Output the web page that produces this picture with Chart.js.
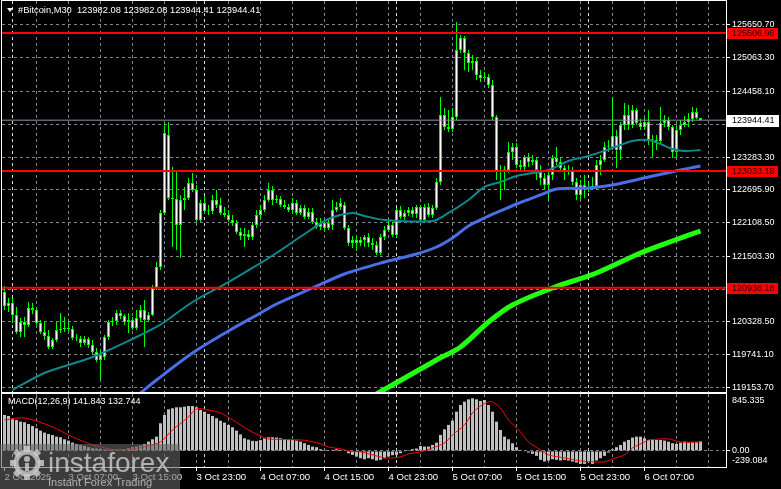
<!DOCTYPE html>
<html>
<head>
<meta charset="utf-8">
<script src="https://cdn.jsdelivr.net/npm/chart.js@4.4.0/dist/chart.umd.min.js"></script>
<style>
  body { margin: 0; background: #000; }
  #wrap { position: relative; width: 781px; height: 489px; overflow: hidden; background: #000; }
  #main { position: absolute; left: 0; top: 0; }
  #macd { position: absolute; left: 0; top: 392px; }
</style>
</head>
<body>
<div id="wrap">
  <canvas id="main" width="781" height="393"></canvas>
  <canvas id="macd" width="781" height="97"></canvas>
</div>
<script>
// свечи M30, бар 0 = 2 Oct 23:00
const opens = [
  120863,120612,120666,120451,120146,120325,120272,120576,120541,120307,
  120146,120074,119877,120003,120182,120200,120218,120200,120038,120030,
  119949,120021,119913,119787,119644,119698,120056,120325,120343,120487,
  120433,120325,120361,120218,120397,120541,120361,120451,120935,121312,
  122280,123678,122549,122531,122065,122513,122549,122818,122692,122154,
  122459,122316,122310,122513,122423,122280,122244,122154,122101,121939,
  121868,121903,121850,122065,122244,122334,122513,122692,122513,122531,
  122423,122388,122334,122459,122280,122370,122208,122298,122119,122029,
  122101,122011,122065,122334,122388,122423,122011,121742,121796,121742,
  121796,121850,121742,121706,121563,121850,121975,122065,121886,122334,
  122208,122280,122334,122262,122388,122154,122388,122244,122370,122836,
  124037,123822,123786,124001,125202,125418,125149,124969,125005,124754,
  124700,124718,124575,124001,123015,123051,123045,123374,123463,123140,
  123105,123284,123194,123230,123051,122907,122782,122961,123266,123194,
  123087,123015,123051,122836,122603,122782,122728,122746,122764,123140,
  123230,123463,123457,123660,123410,123857,124037,123857,124127,123893,
  123822,123911,123589,123583,123571,123893,123947,123822,123374,123768,
  123857,123911,123965,124091,123982.08
];
const highs = [
  120971,120755,120755,120594,120397,120415,120684,120666,120594,120361,
  120325,120182,120038,120325,120487,120415,120325,120254,120110,120074,
  120074,120056,120003,119859,119823,120092,120361,120415,120541,120541,
  120469,120487,120415,120541,120630,120720,120505,120989,121401,122334,
  123893,123911,123105,123015,122603,122746,122907,122997,122782,122513,
  122585,122423,122603,122692,122549,122388,122334,122244,122154,122011,
  122011,121975,122119,122334,122423,122603,122818,122764,122603,122585,
  122513,122441,122549,122513,122423,122423,122370,122370,122190,122190,
  122154,122154,122513,122477,122549,122477,122065,121868,121868,121850,
  121886,121921,121832,121778,121903,122047,122154,122119,122370,122405,
  122334,122388,122388,122423,122423,122441,122459,122423,122907,124360,
  124163,124127,124163,125704,125472,125454,125202,125113,125059,124844,
  124808,124772,124665,124037,123140,123122,123553,123535,123535,123230,
  123320,123356,123320,123266,123140,122997,123051,123320,123463,123266,
  123140,123140,123105,122907,122872,122961,122836,122925,123230,123320,
  123553,123589,124360,123768,123911,124252,124216,124216,124163,123965,
  123983,124127,123678,123678,124180,124037,124001,123857,123857,123947,
  124019,124073,124180,124163,123982.08
];
const lows = [
  120541,120505,120307,120110,120056,120056,120236,120469,120272,120110,
  120003,119841,119841,119967,120128,120146,120164,120003,119985,119877,
  119913,119859,119751,119608,119285,119644,120003,120254,120272,120379,
  120272,120128,120182,120182,120325,119877,120325,120433,120899,121258,
  122244,122513,121670,121616,121473,122334,122513,122656,122119,122119,
  122262,122244,122262,122370,122244,122208,122119,122047,121903,121796,
  121670,121796,121796,122011,122190,122298,122477,122423,122459,122388,
  122352,122298,122262,122244,122244,122172,122172,122083,121993,121975,
  121957,121975,121975,122298,122334,121975,121688,121652,121598,121688,
  121670,121670,121616,121527,121527,121796,121939,121850,121850,122172,
  122154,122226,122208,122190,122119,122119,122208,122190,122334,122782,
  123768,123732,123732,123947,125149,124844,124808,124844,124665,124629,
  124665,124521,123947,122872,122513,122692,122997,123230,123087,123015,
  123051,123105,123140,122872,122782,122692,122513,122872,123140,123015,
  122872,122961,122782,122513,122513,122549,122656,122692,122692,122961,
  123194,123374,123410,123087,123230,123768,123768,123804,123857,123768,
  123768,123499,123284,123410,123499,123822,123768,123266,123284,123678,
  123822,123822,123911,123965,123944.41
];
const closes = [
  120612,120666,120451,120146,120325,120272,120576,120541,120307,120146,
  120074,119877,120003,120182,120200,120218,120200,120038,120030,119949,
  120021,119913,119787,119644,119733,120056,120325,120343,120487,120433,
  120325,120361,120218,120397,120541,120361,120451,120935,121312,122280,
  123714,122549,122531,122065,122513,122549,122818,122692,122154,122459,
  122316,122310,122513,122423,122280,122244,122154,122101,121939,121868,
  121903,121850,122065,122244,122334,122513,122692,122513,122531,122423,
  122388,122334,122459,122280,122370,122208,122298,122119,122029,122101,
  122011,122101,122334,122388,122459,122011,121742,121796,121742,121796,
  121850,121742,121706,121563,121850,121975,122065,121886,122334,122208,
  122280,122334,122262,122388,122154,122388,122244,122370,122836,124037,
  123822,123786,124001,125202,125418,125149,124969,125005,124754,124700,
  124718,124575,124001,123015,123051,123045,123374,123463,123140,123105,
  123284,123194,123230,123051,122907,122782,122961,123266,123194,123087,
  123015,123051,122836,122603,122782,122728,122746,122764,123140,123230,
  123463,123457,123660,123410,123857,124037,123857,124127,123893,123822,
  123911,123589,123583,123571,123893,123947,123822,123374,123768,123857,
  123911,123965,124091,123983,123944.41
];

// скользящие средние (номер бара, значение)
const maTealIdx = [2,10,22,33,38,40,47,56,62,68,75,81,87,90,95,107,111,116,120,124,128,136,141,146,152,157,161,164,167,170,174];
const maTealVal = [119106,119411,119698,120056,120236,120325,120684,121042,121294,121563,121903,122172,122280,122226,122154,122137,122280,122513,122746,122836,122943,123051,123212,123302,123445,123571,123589,123517,123427,123392,123410];
const maBlueIdx = [34,38,47,56,64,68,77,85,95,103,108,112,116,120,124,128,134,138,146,152,161,169,174];
const maBlueVal = [119052,119285,119769,120164,120486,120648,120935,121186,121401,121545,121670,121832,122047,122190,122316,122441,122603,122710,122728,122782,122925,123051,123122];
const maGreenIdx = [93,108,114,121,127,137,148,159,167,174];
const maGreenVal = [119034,119644,119877,120325,120630,120935,121204,121563,121778,121957];

// уровни и текущая цена
const levels = [125506.96, 123033.18, 120938.18];
const lastPrice = 123944.41;
const priceTicks = [125650.70,125063.30,124458.10,123870.70,123283.30,122695.90,122108.50,121503.30,120915.90,120328.50,119741.10,119153.70];

// MACD(12,26,9)
const macdHist = [
  534,519,470,460,435,425,400,371,337,301,
  272,252,237,212,203,173,153,123,104,89,
  74,55,40,35,25,20,20,22,22,24,
  25,40,55,64,79,104,138,173,212,410,
  534,618,633,648,648,657,667,667,648,608,
  583,549,519,485,449,420,386,351,301,245,
  188,168,150,146,160,185,203,203,198,188,
  178,173,163,153,138,114,89,64,55,25,
  15,5,15,25,15,0,-35,-59,-84,-109,
  -124,-109,-124,-143,-133,-109,-84,-64,-59,-35,
  -10,15,25,35,74,64,64,89,123,237,
  321,386,450,583,682,732,766,781,766,741,
  756,682,583,435,311,212,173,114,55,15,
  -10,-25,-44,-74,-133,-158,-143,-124,-133,-143,
  -133,-143,-158,-173,-193,-193,-158,-193,-143,-109,
  -74,-25,25,55,89,138,163,198,212,212,
  188,163,163,163,163,153,138,114,104,123,
  138,123,129,129,141.843
];
const signalIdx = [0,5,12,16,20,24,28,32,36,39,42,46,48,51,54,57,59,61,64,66,74,76,79,81,84,86,89,92,95,97,99,101,104,107,110,112,115,117,119,121,122,124,126,129,131,134,136,140,144,147,150,152,155,157,160,161,166,169,174];
const signalVal = [460,489,356,237,133,59,15,30,74,133,311,504,623,608,564,460,386,311,222,178,163,148,104,59,30,0,-15,-59,-104,-104,-89,-44,-15,44,119,237,386,564,667,727,727,638,460,282,133,15,-59,-104,-148,-163,-163,-119,-59,44,133,163,178,133,132.744];
const macdMax = 845.335;
const macdMin = -239.084;

// ось времени
const gridIdx = [8,16,24,32,40,48,56,64,72,80,88,96,104,112,120,128,136,144,152,160,168,176];
const dayIdx = [2,50,98,146];
const dateIdx = [0,16,32,48,64,80,96,112,128,144,160];
const dateText = ['2 Oct 2025','3 Oct 07:00','3 Oct 15:00','3 Oct 23:00','4 Oct 07:00','4 Oct 15:00','4 Oct 23:00','5 Oct 07:00','5 Oct 15:00','5 Oct 23:00','6 Oct 07:00'];

const X_MIN = -0.625, X_MAX = 180.375;
const FONT = '"Liberation Sans", Arial, sans-serif';
const GRID = '#7d8590';

Chart.defaults.font.family = FONT;
Chart.defaults.font.size = 9;
Chart.defaults.color = '#ffffff';

function gridColor(ctx) {
  const v = ctx.tick ? ctx.tick.value : null;
  if (dayIdx.includes(v)) return '#d8d8d8';
  if (gridIdx.includes(v)) return GRID;
  return 'rgba(0,0,0,0)';
}

function pts(idx, vals) {
  return idx.map((x, k) => ({ x: x, y: vals[k] }));
}

// без лишних отступов под подписи
function noPad(s) {
  s.paddingTop = 0; s.paddingBottom = 0; s.paddingLeft = 0; s.paddingRight = 0;
}

// рамка панели
const framePlugin = {
  id: 'frame',
  afterDraw(chart) {
    const { ctx, chartArea: a } = chart;
    ctx.save();
    ctx.strokeStyle = '#ffffff';
    ctx.lineWidth = 1;
    ctx.strokeRect(a.left - 0.5, a.top - 0.5, a.right - a.left + 1, a.bottom - a.top + 1);
    ctx.restore();
  }
};

// заголовок и метки уровней на шкале
const mainOverlay = {
  id: 'mainOverlay',
  afterDraw(chart) {
    const { ctx } = chart;
    const y = chart.scales.y;
    ctx.save();
    ctx.fillStyle = '#ffffff';
    ctx.beginPath();
    ctx.moveTo(7, 8); ctx.lineTo(13, 8); ctx.lineTo(10, 12); ctx.closePath();
    ctx.fill();
    ctx.font = '9.3px ' + FONT;
    ctx.textBaseline = 'middle';
    ctx.textAlign = 'left';
    ctx.fillText('#Bitcoin,M30  123982.08 123982.08 123944.41 123944.41', 18, 10);

    ctx.font = '9px ' + FONT;
    levels.forEach(v => {
      const py = Math.round(y.getPixelForValue(v));
      ctx.fillStyle = '#ff0000';
      ctx.fillRect(727, py - 5, 51, 11);
      ctx.fillStyle = '#220000';
      ctx.fillText(v.toFixed(2), 732, py + 0.5);
    });
    const pp = Math.round(y.getPixelForValue(lastPrice));
    ctx.fillStyle = '#ffffff';
    ctx.fillRect(727, pp - 5, 52, 12);
    ctx.fillStyle = '#000000';
    ctx.fillText(lastPrice.toFixed(2), 732, pp + 1);
    ctx.restore();
  }
};

const mainChart = new Chart(document.getElementById('main'), {
  type: 'bar',
  data: {
    datasets: [
      ...levels.map(v => ({
        type: 'line', order: 0, data: [{ x: X_MIN, y: v }, { x: X_MAX, y: v }],
        borderColor: '#ff0000', borderWidth: 2, pointRadius: 0
      })),
      {
        type: 'line', order: 1, data: [{ x: X_MIN, y: lastPrice }, { x: X_MAX, y: lastPrice }],
        borderColor: '#8c96a0', borderWidth: 1, pointRadius: 0
      },
      { type: 'line', order: 2, data: pts(maTealIdx, maTealVal), borderColor: '#0e8a8a', borderWidth: 2, pointRadius: 0, tension: 0.3 },
      { type: 'line', order: 2, data: pts(maBlueIdx, maBlueVal), borderColor: '#4a6ee6', borderWidth: 3, pointRadius: 0, tension: 0.3 },
      { type: 'line', order: 2, data: pts(maGreenIdx, maGreenVal), borderColor: '#22ff11', borderWidth: 5, pointRadius: 0, tension: 0.3 },
      {
        order: 3, grouped: false,
        data: opens.map((o, i) => ({ x: i, y: [o, closes[i]] })),
        backgroundColor: '#ffffff',
        borderColor: '#00ff00', borderWidth: 1, borderSkipped: false,
        barThickness: 3, minBarLength: 1, inflateAmount: 0
      },
      {
        order: 4, grouped: false,
        data: lows.map((l, i) => ({ x: i, y: [l, highs[i]] })),
        backgroundColor: '#00ff00', borderWidth: 0,
        barThickness: 1, minBarLength: 1, inflateAmount: 0
      }
    ]
  },
  options: {
    responsive: false,
    animation: false,
    devicePixelRatio: 1,
    layout: { padding: { left: 2, top: 1, right: 0, bottom: 1 } },
    plugins: { legend: { display: false }, tooltip: { enabled: false } },
    scales: {
      x: {
        type: 'linear', min: X_MIN, max: X_MAX, offset: false,
        afterBuildTicks: s => { s.ticks = [...dayIdx, ...gridIdx].sort((a, b) => a - b).map(v => ({ value: v })); },
        afterFit: s => { s.height = 0; noPad(s); },
        ticks: { display: false },
        grid: { color: gridColor, drawTicks: false, offset: false },
        border: { display: false, dash: [3, 3] }
      },
      y: {
        position: 'right', min: 119070, max: 126081,
        afterBuildTicks: s => { s.ticks = priceTicks.map(v => ({ value: v })); },
        afterFit: s => { s.width = 55; noPad(s); },
        ticks: { color: '#ffffff', padding: 2, autoSkip: false, callback: v => v.toFixed(2), font: { size: 9 } },
        grid: { color: GRID, tickLength: 4, tickColor: '#ffffff', drawTicks: true },
        border: { display: false, dash: [3, 3] }
      }
    }
  },
  plugins: [framePlugin, mainOverlay]
});

// подпись MACD, шкала и водяной знак
const macdOverlay = {
  id: 'macdOverlay',
  afterDraw(chart) {
    const { ctx } = chart;
    ctx.save();
    ctx.font = '9px ' + FONT;
    ctx.textBaseline = 'middle';
    ctx.textAlign = 'left';
    ctx.fillStyle = '#ffffff';
    ctx.fillText('MACD(12,26,9) 141.843 132.744', 8, 10);
    ctx.fillText(macdMax.toFixed(3), 732, 9);
    ctx.fillText(macdMin.toFixed(3), 732, 69);

    // водяной знак
    ctx.fillStyle = 'rgba(100,100,100,0.6)';
    ctx.fillRect(0, 52, 180, 45);
    ctx.fillStyle = 'rgba(205,205,205,0.8)';
    ctx.strokeStyle = 'rgba(205,205,205,0.8)';
    const cx = 27, cy = 71;
    for (let k = 0; k < 8; k++) {
      ctx.save();
      ctx.translate(cx, cy);
      ctx.rotate(k * Math.PI / 4);
      ctx.fillRect(-3, -17, 6, 6);
      ctx.restore();
    }
    ctx.lineWidth = 5;
    ctx.beginPath(); ctx.arc(cx, cy, 11, 0, Math.PI * 2); ctx.stroke();
    ctx.beginPath(); ctx.arc(cx, cy - 4, 3, 0, Math.PI * 2); ctx.fill();
    ctx.fillRect(cx - 2, cy, 4, 8);
    ctx.font = '28px ' + FONT;
    ctx.textBaseline = 'alphabetic';
    ctx.fillText('instaforex', 48, 80);
    ctx.font = '11px ' + FONT;
    ctx.fillText('Instant Forex Trading', 48, 94);
    ctx.restore();
  }
};

const macdChart = new Chart(document.getElementById('macd'), {
  type: 'bar',
  data: {
    datasets: [
      { type: 'line', order: 0, data: pts(signalIdx, signalVal), borderColor: '#ff0000', borderWidth: 1, pointRadius: 0, tension: 0.3 },
      {
        order: 1, grouped: false,
        data: macdHist.map((v, i) => ({ x: i, y: v })),
        backgroundColor: '#c0c0c0', borderWidth: 0, barThickness: 3, inflateAmount: 0
      }
    ]
  },
  options: {
    responsive: false,
    animation: false,
    devicePixelRatio: 1,
    layout: { padding: { left: 2, top: 2, right: 0, bottom: 0 } },
    plugins: { legend: { display: false }, tooltip: { enabled: false } },
    scales: {
      x: {
        type: 'linear', min: X_MIN, max: X_MAX, offset: false,
        afterBuildTicks: s => {
          const all = Array.from(new Set([...dateIdx, ...dayIdx, ...gridIdx])).sort((a, b) => a - b);
          s.ticks = all.map(v => ({ value: v }));
        },
        afterFit: s => { s.height = 22; noPad(s); },
        ticks: {
          color: '#ffffff', autoSkip: false, maxRotation: 0, minRotation: 0, align: 'start', padding: 1,
          font: { size: 9.6 },
          callback: v => { const k = dateIdx.indexOf(v); return k >= 0 ? dateText[k] : ''; }
        },
        grid: {
          offset: false,
          color: c => (c.tick && c.tick.value === 0) ? 'rgba(0,0,0,0)' : gridColor(c),
          tickLength: 4,
          tickColor: c => (c.tick && dateIdx.includes(c.tick.value)) ? '#ffffff' : 'rgba(0,0,0,0)'
        },
        border: { display: false, dash: [3, 3] }
      },
      y: {
        position: 'right', min: macdMin, max: macdMax,
        afterBuildTicks: s => { s.ticks = [{ value: 0 }]; },
        afterFit: s => { s.width = 55; noPad(s); },
        ticks: { color: '#ffffff', padding: 2, callback: v => v.toFixed(2) },
        grid: { color: GRID, tickLength: 4, tickColor: '#ffffff' },
        border: { display: false, dash: [3, 3] }
      }
    }
  },
  plugins: [framePlugin, macdOverlay]
});
</script>
</body>
</html>
